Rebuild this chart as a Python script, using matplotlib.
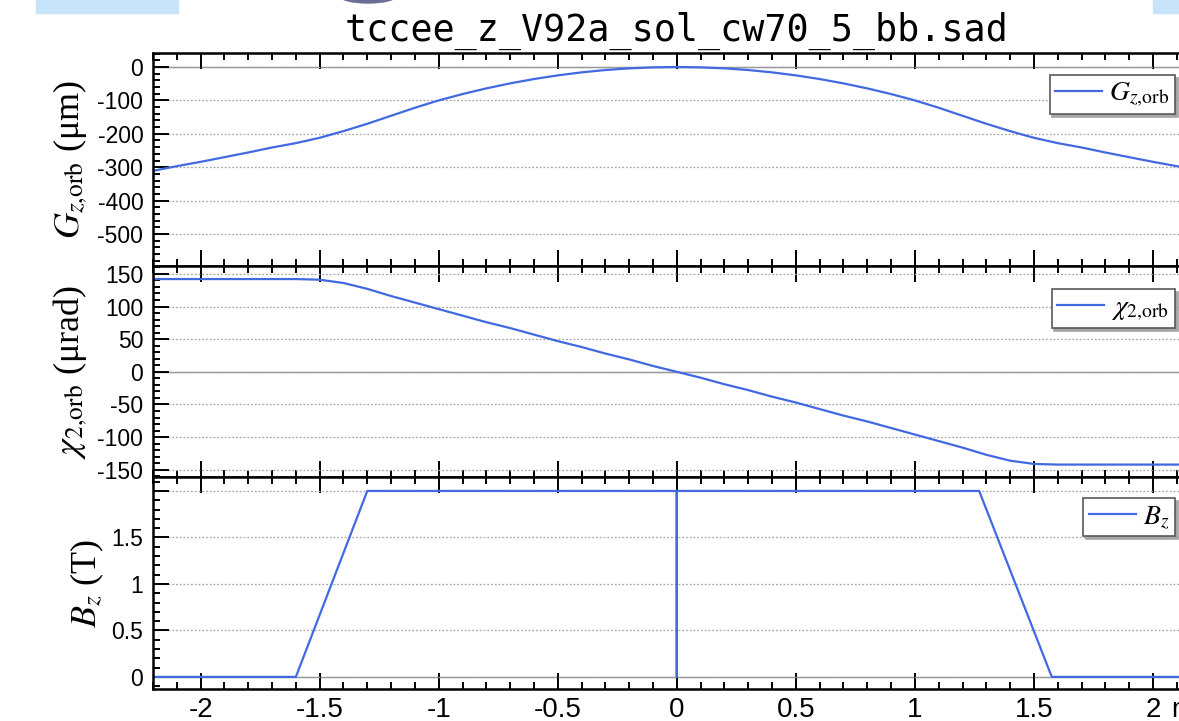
import numpy as np
import matplotlib
matplotlib.use("Agg")
import matplotlib.pyplot as plt
from matplotlib.ticker import MultipleLocator, AutoMinorLocator, FuncFormatter
from matplotlib.patches import Rectangle, Ellipse

# Dados
titulo = "tccee_z_V92a_sol_cw70_5_bb.sad"

s_orb = [-2.2, -2.1, -2.0, -1.9, -1.8, -1.7, -1.6, -1.5, -1.4, -1.3, -1.2, -1.1,
         -1.0, -0.9, -0.8, -0.7, -0.6, -0.5, -0.4, -0.3, -0.2, -0.1, 0.0,
         0.1, 0.2, 0.3, 0.4, 0.5, 0.6, 0.7, 0.8, 0.9, 1.0, 1.1, 1.2, 1.3,
         1.4, 1.5, 1.6, 1.7, 1.8, 1.9, 2.0, 2.1, 2.2]
g_orb = [-311, -297, -284, -270, -256, -241, -228, -212, -192, -170, -146, -122,
         -100, -81, -64, -49, -36, -25, -16, -9, -4, -1, 0,
         -1, -4, -9, -16, -25, -36, -49, -64, -81, -100, -122, -146, -170,
         -192, -212, -228, -241, -256, -270, -284, -297, -311]
chi_orb = [142, 142, 142, 142, 142, 142, 142, 141, 136, 127, 116, 106,
           96, 86, 76, 67, 57, 47, 38, 28, 19, 9, 0,
           -9, -19, -28, -38, -47, -57, -67, -76, -86, -96, -106, -116, -127,
           -136, -141, -142, -142, -142, -142, -142, -142, -142]

s_bz = [-2.2, -1.6, -1.3, 0.0, 0.0, 0.0, 1.27, 1.575, 2.2]
b_z = [0, 0, 2.0, 2.0, 0, 2.0, 2.0, 0, 0]

rotulos_y = [r"$G_{z,\!\mathrm{orb}}$ (μm)", r"$\chi_{2,\!\mathrm{orb}}$ (μrad)", r"$B_z$ (T)"]
legendas = [r"$G_{z,\!\mathrm{orb}}$", r"$\chi_{2,\!\mathrm{orb}}$", r"$B_z$"]

plt.rcParams["font.family"] = ["Liberation Sans", "DejaVu Sans"]
plt.rcParams["mathtext.fontset"] = "stix"
plt.rcParams["axes.unicode_minus"] = False

W, H = 1179, 721
azul = "#4169E1"

fig = plt.figure(figsize=(W / 100, H / 100), dpi=100)

# pedaços do slide no topo
fig.patches.append(Rectangle((36 / W, 1 - 12.7 / H), 142 / W, 12.7 / H,
                             transform=fig.transFigure, color="#c7e4fb", zorder=0))
fig.patches.append(Rectangle((1153 / W, 1 - 12.7 / H), 30 / W, 12.7 / H,
                             transform=fig.transFigure, color="#c7e4fb", zorder=0))
fig.patches.append(Ellipse((368 / W, 1 + 4 / H), 56 / W, 14 / H,
                           transform=fig.transFigure, color="#6b6e98", zorder=0))

esq = 153 / W
larg = (1200.6 - 153) / W
ax1 = fig.add_axes([esq, (H - 266) / H, larg, 213 / H])
ax2 = fig.add_axes([esq, (H - 477) / H, larg, 211 / H])
ax3 = fig.add_axes([esq, (H - 689) / H, larg, 212 / H])
eixos = [ax1, ax2, ax3]

ax1.plot(s_orb, g_orb, color=azul, lw=1.6, label=legendas[0])
ax2.plot(s_orb, chi_orb, color=azul, lw=1.6, label=legendas[1])
ax3.plot(s_bz, b_z, color=azul, lw=1.6, label=legendas[2])

ax1.set_ylim(-596, 42)
ax2.set_ylim(-161, 162)
ax3.set_ylim(-0.13, 2.15)

ax1.yaxis.set_major_locator(MultipleLocator(100))
ax2.yaxis.set_major_locator(MultipleLocator(50))
ax3.yaxis.set_major_locator(MultipleLocator(0.5))

fmt = FuncFormatter(lambda v, p: f"{v:g}")
fmt_bz = FuncFormatter(lambda v, p: "" if v > 1.9 else f"{v:g}")

topos_leg = [75, 289, 498]
xs_rotulo = [-0.079, -0.079, -0.063]

for i, ax in enumerate(eixos):
    ax.set_xlim(-2.2, 2.2)
    ax.xaxis.set_major_locator(MultipleLocator(0.5))
    ax.xaxis.set_minor_locator(AutoMinorLocator(5))
    ax.yaxis.set_minor_locator(AutoMinorLocator(5))
    ax.yaxis.set_major_formatter(fmt_bz if i == 2 else fmt)
    ax.xaxis.set_major_formatter(fmt)
    ax.tick_params(axis="x", which="both", direction="in", top=True, bottom=True,
                   labelbottom=(i == 2), labelsize=20, pad=6, width=1.4)
    ax.tick_params(axis="y", which="both", direction="in", left=True, right=True,
                   labelsize=16.5, pad=7, width=1.4)
    ax.tick_params(which="major", length=11.5)
    ax.tick_params(which="minor", length=5)
    for sp in ax.spines.values():
        sp.set_linewidth(1.8)
    ax.yaxis.grid(True, linestyle=(0, (1.5, 1.5)), color="0.65", linewidth=0.9)
    ax.axhline(0, color="0.55", lw=1.0, zorder=1)
    ax.set_ylabel(rotulos_y[i], family=["Liberation Serif", "DejaVu Serif"],
                  fontsize=26, va="center")
    ax.yaxis.set_label_coords(xs_rotulo[i], 0.5)
    leg = ax.legend(loc="upper right", bbox_to_anchor=(1175 / W, 1 - topos_leg[i] / H),
                    bbox_transform=fig.transFigure, fontsize=20, fancybox=False,
                    shadow={"facecolor": "0.65", "edgecolor": "0.65", "alpha": 1},
                    edgecolor="0.35", framealpha=1, borderpad=0.2, handlelength=1.7,
                    handletextpad=0.25, borderaxespad=0)
    leg.get_frame().set_linewidth(1.2)

ax3.annotate("m", xy=(2.075, 0), xycoords=("data", "axes fraction"),
             xytext=(0, -6), textcoords="offset points", va="top", ha="left",
             fontsize=20)

ax1.set_title(titulo, family="DejaVu Sans Mono", fontsize=26.5, pad=9)

fig.savefig("out.png", dpi=100)
